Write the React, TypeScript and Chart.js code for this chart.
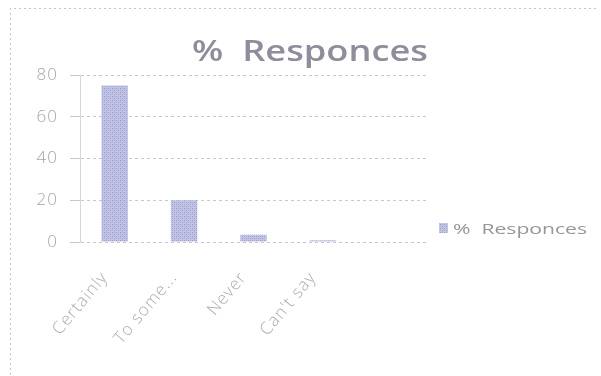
import React, { useEffect, useRef } from "react";
import { Chart, registerables } from "chart.js";

Chart.register(...registerables);

const categories = ["Certainly", "To some...", "Never", "Can't say", ""];
const responses = [75, 20, 3.5, 0.8, 0];
const yTicks = [0, 20, 40, 60, 80];
const seriesName = "%  Responces";
const titleText = "%  Responces";

const FONT = "'Open Sans', Lato, sans-serif";

function makePattern(): CanvasPattern | string {
  const c = document.createElement("canvas");
  c.width = 4;
  c.height = 4;
  const g = c.getContext("2d");
  if (!g) return "#b5b8d8";
  g.fillStyle = "#c1c4e4";
  g.fillRect(0, 0, 4, 4);
  g.fillStyle = "#979bc9";
  g.fillRect(0, 0, 1, 1);
  g.fillRect(2, 2, 1, 1);
  g.fillStyle = "#abafd8";
  g.fillRect(2, 0, 1, 1);
  g.fillRect(0, 2, 1, 1);
  const p = g.createPattern(c, "repeat");
  return p || "#b5b8d8";
}

function fitText(ctx: CanvasRenderingContext2D, text: string, left: number, right: number, baseline: number) {
  const w = ctx.measureText(text).width;
  const sx = (right - left) / w;
  ctx.save();
  ctx.translate(left, baseline);
  ctx.scale(sx, 1);
  ctx.textAlign = "left";
  ctx.textBaseline = "alphabetic";
  ctx.fillText(text, 0, 0);
  ctx.restore();
}

const decorPlugin = {
  id: "decor",
  beforeDraw(chart: any) {
    const ctx = chart.ctx;
    ctx.save();
    ctx.fillStyle = "#ffffff";
    ctx.fillRect(0, 0, chart.width, chart.height);
    ctx.strokeStyle = "#c4c4c4";
    ctx.lineWidth = 1;
    ctx.setLineDash([2, 3]);
    ctx.beginPath();
    ctx.moveTo(10.5, 380);
    ctx.lineTo(10.5, 8.5);
    ctx.lineTo(598, 8.5);
    ctx.stroke();
    ctx.restore();
    try {
      (ctx as any).letterSpacing = "1px";
    } catch (e) {}
  },
  afterDraw(chart: any) {
    const ctx = chart.ctx;
    try {
      (ctx as any).letterSpacing = "0px";
    } catch (e) {}
    ctx.save();
    // title
    ctx.fillStyle = "#8d8d9c";
    ctx.font = `600 28px ${FONT}`;
    fitText(ctx, titleText, 192, 428, 61);
    // legend
    const pat = chart.data.datasets[0].backgroundColor;
    ctx.fillStyle = pat;
    ctx.fillRect(439, 223, 9, 10);
    ctx.fillStyle = "#95959c";
    ctx.font = `15px ${FONT}`;
    fitText(ctx, chart.data.datasets[0].label, 453, 587, 234);
    ctx.restore();
  },
};

export default function App() {
  const ref = useRef<HTMLCanvasElement | null>(null);

  useEffect(() => {
    if (!ref.current) return;
    const fill = makePattern();
    const chart = new Chart(ref.current, {
      type: "bar",
      data: {
        labels: categories,
        datasets: [
          {
            label: seriesName,
            data: responses,
            backgroundColor: fill as any,
            borderWidth: 0,
            barPercentage: 0.38,
            categoryPercentage: 1,
          },
        ],
      },
      options: {
        responsive: false,
        animation: false,
        layout: { padding: { left: 0, right: 174, top: 75, bottom: 0 } },
        plugins: {
          legend: { display: false },
          title: { display: false },
          tooltip: { enabled: false },
        },
        scales: {
          x: {
            grid: { display: false, drawTicks: false },
            border: { display: false },
            ticks: {
              minRotation: 50,
              maxRotation: 50,
              autoSkip: false,
              padding: 26,
              labelOffset: -10,
              color: "#acacb2",
              font: { family: FONT, size: 17, weight: "300" as any },
            },
            afterFit(scale: any) {
              scale.height = 134;
            },
          },
          y: {
            min: 0,
            max: 80,
            afterBuildTicks(scale: any) {
              scale.ticks = yTicks.map((v) => ({ value: v }));
            },
            grid: {
              color: "#c6c6d6",
              lineWidth: 1,
              tickLength: 10,
            },
            border: { display: true, color: "#d6d6e0", dash: [3, 3] },
            ticks: {
              padding: 12,
              color: "#a4a4aa",
              font: { family: FONT, size: 17, weight: "300" as any },
            },
            afterFit(scale: any) {
              scale.width = 80;
            },
          },
        },
      },
      plugins: [decorPlugin],
    });
    return () => chart.destroy();
  }, []);

  return (
    <div style={{ position: "fixed", left: 0, top: 0, width: 601, height: 376, background: "#fff" }}>
      <canvas ref={ref} width={601} height={376} style={{ width: 601, height: 376, display: "block" }} />
    </div>
  );
}
